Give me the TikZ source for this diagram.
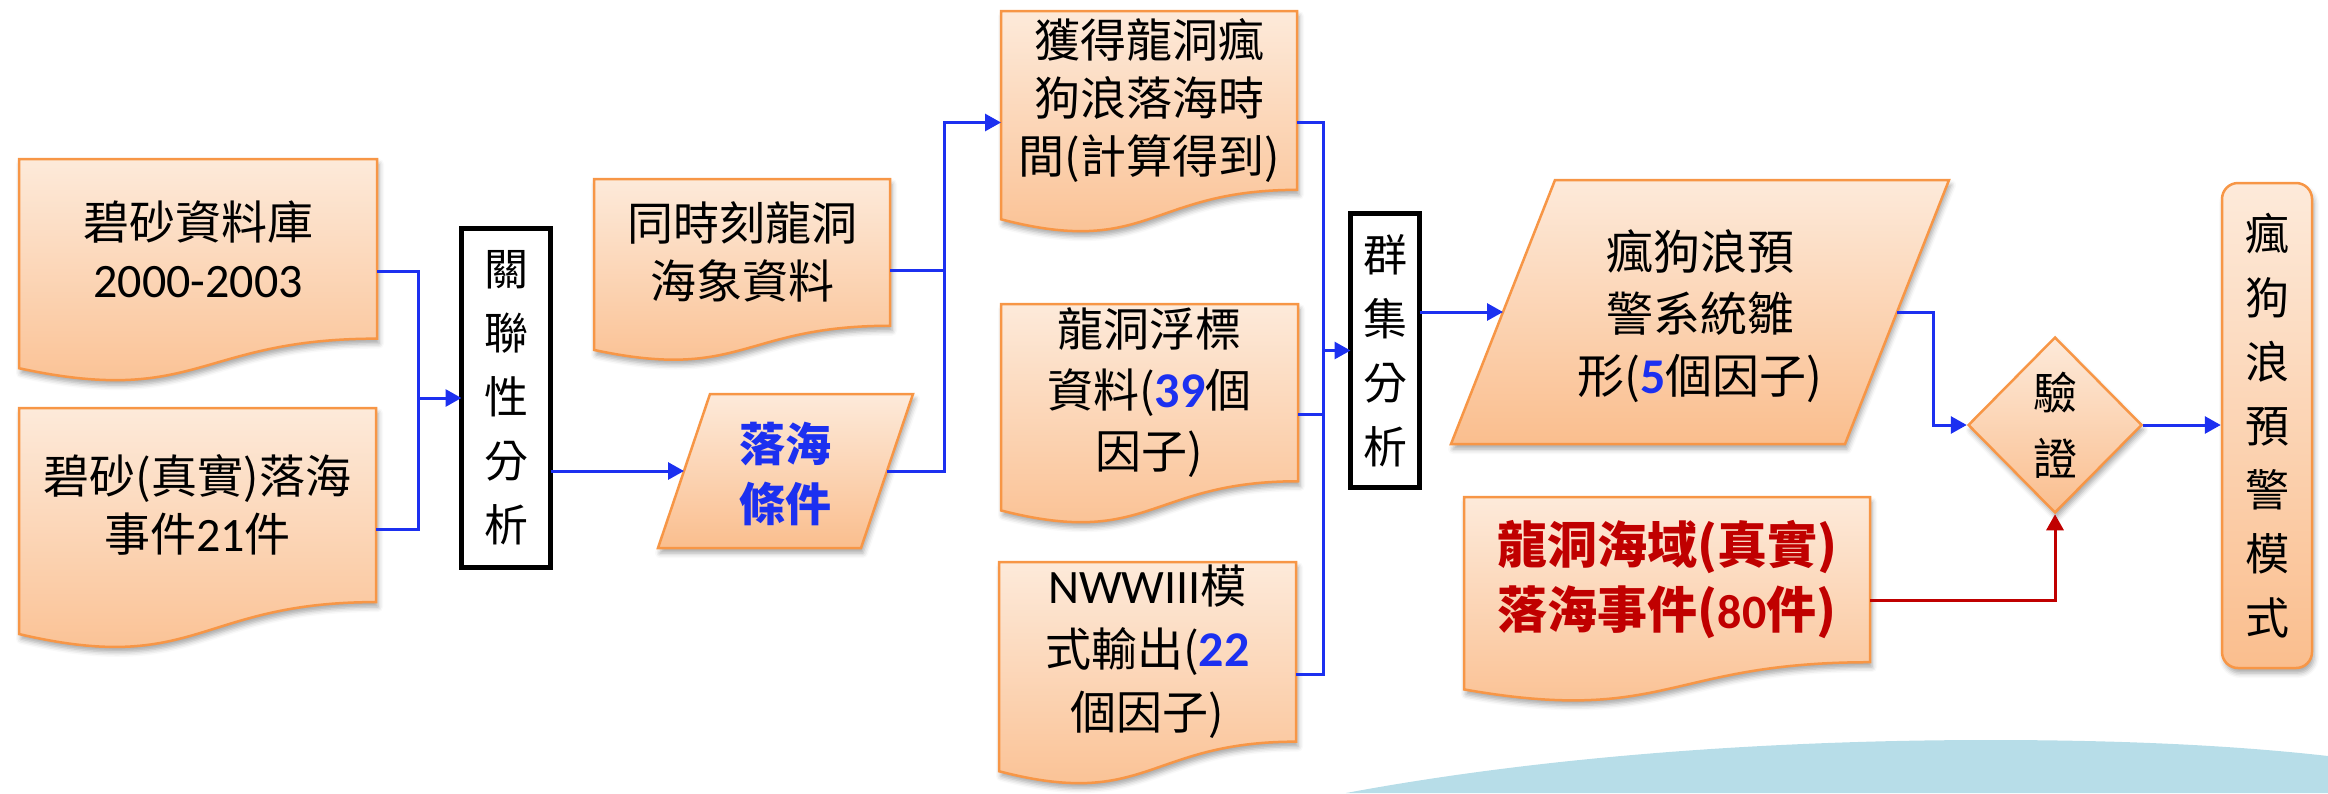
\documentclass[tikz,border=0pt]{standalone}
\usepackage{fontspec}
\setmainfont{Carlito}
\newfontfamily\cjk{Noto Sans CJK TC}
\newfontfamily\latf{Carlito}
\usetikzlibrary{calc,arrows.meta,shapes.geometric,shadows.blur}
\definecolor{lineblue}{RGB}{28,48,240}
\definecolor{docorange}{RGB}{247,150,70}
\definecolor{gradtop}{RGB}{253,234,218}
\definecolor{gradbot}{RGB}{250,190,142}
\definecolor{darkred}{RGB}{192,0,0}
\definecolor{seablue}{RGB}{183,221,232}
\newcommand\lat[1]{{\latf\fontsize{48}{48}\selectfont #1}}
\newcommand\bnum[1]{{\latf\fontsize{50}{50}\selectfont\bfseries\color{lineblue}#1}}
% document shape for an (empty) named node of full height H
\newcommand\docpath[2]{%
  \pgfmathsetmacro\dA{0.802*#2}%
  \pgfmathsetmacro\dB{1.1075*#2}%
  \pgfmathsetmacro\dC{0.934*#2}%
  \path[orangefill] (#1.north west) -- (#1.north east) -- ($(#1.north east)+(0pt,-\dA pt)$)
    .. controls ($(#1.north)+(0pt,-\dA pt)$) and ($(#1.north)+(0pt,-\dB pt)$) ..
    ($(#1.north west)+(0pt,-\dC pt)$) -- cycle;}
\newcommand\doctxt[4][]{%
  \pgfmathsetmacro\dT{0.401*#3}%
  \node[doctext,#1] (#2t) at ($(#2.north)+(0pt,-\dT pt)$) {#4};}
% parallelogram for a named node spanning the mid-points of its slanted sides
\newcommand\parapath[2]{%
  \path[orangefill] ($(#1.north west)+(#2pt,0pt)$) -- ($(#1.north east)+(#2pt,0pt)$)
    -- ($(#1.south east)+(-#2pt,0pt)$) -- ($(#1.south west)+(-#2pt,0pt)$) -- cycle;}
\begin{document}
\begin{tikzpicture}[x=1pt,y=-1pt,
  conn/.style={draw=lineblue, line width=3pt},
  arr/.style={conn, -{Triangle[length=16pt,width=17pt]}},
  redarr/.style={draw=darkred, line width=3pt, -{Triangle[length=16pt,width=17pt]}},
  orangefill/.style={draw=docorange, line width=2.5pt, top color=gradtop, bottom color=gradbot,
    blur shadow={shadow xshift=2pt, shadow yshift=-5pt, shadow blur radius=5pt, shadow opacity=35}},
  anchorbox/.style={draw=none, inner sep=0pt, outer sep=0pt},
  doctext/.style={inner sep=0pt, align=center, font=\cjk\fontsize{46}{58}\selectfont},
  vtext/.style={inner sep=0pt, align=center, font=\cjk\fontsize{44}{64}\selectfont},
  blackbox/.style={draw=black, line width=5pt, fill=white, inner sep=0pt, outer sep=0pt, vtext},
]
\useasboundingbox (0,0) rectangle (2328,793);
% sea background
\fill[seablue] (1346,793) .. controls (1550,755) and (1780,740) .. (1990,740)
  .. controls (2130,740) and (2240,746) .. (2328,756) -- (2328,793) -- cycle;

% document anchor nodes (full height)
\node[anchorbox, minimum width=358pt, minimum height=224pt] (d1) at (198,271) {};
\node[anchorbox, minimum width=357pt, minimum height=242pt] (d2) at (197.5,529) {};
\node[anchorbox, minimum width=296pt, minimum height=183pt] (dsea) at (742,270.5) {};
\node[anchorbox, minimum width=296pt, minimum height=223pt] (dtime) at (1149,122.5) {};
\node[anchorbox, minimum width=297pt, minimum height=221pt] (dbuoy) at (1149.5,414.5) {};
\node[anchorbox, minimum width=297pt, minimum height=224pt] (dww3) at (1147.5,674) {};
\node[anchorbox, minimum width=406pt, minimum height=206pt] (dreal) at (1667,600) {};
% parallelogram anchor nodes
\node[anchorbox, minimum width=203pt, minimum height=154pt] (p1) at (785.5,471) {};
\node[anchorbox, minimum width=394pt, minimum height=264pt] (p2) at (1700,312) {};

% shapes
\docpath{d1}{224}
\docpath{d2}{242}
\docpath{dsea}{183}
\docpath{dtime}{223}
\docpath{dbuoy}{221}
\docpath{dww3}{224}
\docpath{dreal}{206}
\parapath{p1}{26}
\parapath{p2}{52}

% texts
\doctxt{d1}{224}{碧砂資料庫\\\lat{2000-2003}}
\doctxt{d2}{242}{碧砂(真實)落海\\事件\lat{21}件}
\doctxt{dsea}{183}{同時刻龍洞\\海象資料}
\doctxt[font=\cjk\fontsize{46}{58}\selectfont]{dtime}{223}{獲得龍洞瘋\\狗浪落海時\\間(計算得到)}
\doctxt[font=\cjk\fontsize{46}{61}\selectfont]{dbuoy}{221}{龍洞浮標\\資料(\bnum{39}個\\因子)}
\doctxt[font=\cjk\fontsize{46}{63}\selectfont]{dww3}{224}{\lat{NWWIII}模\\式輸出(\bnum{22}\\個因子)}
\doctxt[font=\cjk\bfseries\fontsize{50}{65}\selectfont, text=darkred]{dreal}{206}{龍洞海域(真實)\\落海事件(\lat{\bfseries 80}件)}
\node[doctext, font=\cjk\bfseries\fontsize{46}{60}\selectfont, text=lineblue] (p1t) at ($(p1.center)+(0pt,-3pt)$) {落海\\條件};
\node[doctext, font=\cjk\fontsize{47}{62}\selectfont] (p2t) at ($(p2.center)+(0pt,-4pt)$) {瘋狗浪預\\警系統雛\\形(\bnum{5}個因子)};

% process boxes
\node[blackbox, minimum width=89pt, minimum height=339pt] (box1) at (506,398) {關\\聯\\性\\分\\析};
\node[blackbox, minimum width=69pt, minimum height=274pt] (box2) at (1385,350.5) {群\\集\\分\\析};

% decision and result
\node[orangefill, diamond, minimum width=174pt, minimum height=176pt, inner sep=0pt,
  align=center, font=\cjk\fontsize{44}{66}\selectfont] (dia) at (2055,425) {驗\\證};
\node[orangefill, rounded corners=16pt, minimum width=90pt, minimum height=485pt, vtext] (rr) at (2267,425.5)
  {瘋\\狗\\浪\\預\\警\\模\\式};

% junction coordinates
\coordinate (j1) at (418,0);
\coordinate (j2) at (944,0);
\coordinate (j3) at (1323,0);
\coordinate (j4) at (1933,0);

% connectors
\draw[conn] (d1.east) -| (j1 |- box1.west);
\draw[conn] (d2.east) -| (j1 |- box1.west);
\draw[arr] (j1 |- box1.west) -- (box1.west);
\draw[arr] (box1.east |- p1.west) -- (p1.west);
\draw[conn] (dsea.east) -- (dsea.east -| j2);
\draw[arr] (p1.east) -| (j2 |- dtime.west) -- (dtime.west);
\draw[conn] (dtime.east) -| (j3 |- dww3.east) -- (dww3.east);
\draw[conn] (dbuoy.east) -- (dbuoy.east -| j3);
\draw[arr] (j3 |- box2.west) -- (box2.west);
\draw[arr] (box2.east |- p2.west) -- (p2.west);
\draw[arr] (p2.east) -| (j4 |- dia.west) -- (dia.west);
\draw[arr] (dia.east) -- (dia.east -| rr.west);
\draw[redarr] (dreal.east) -| (dia.south);
\end{tikzpicture}
\end{document}
